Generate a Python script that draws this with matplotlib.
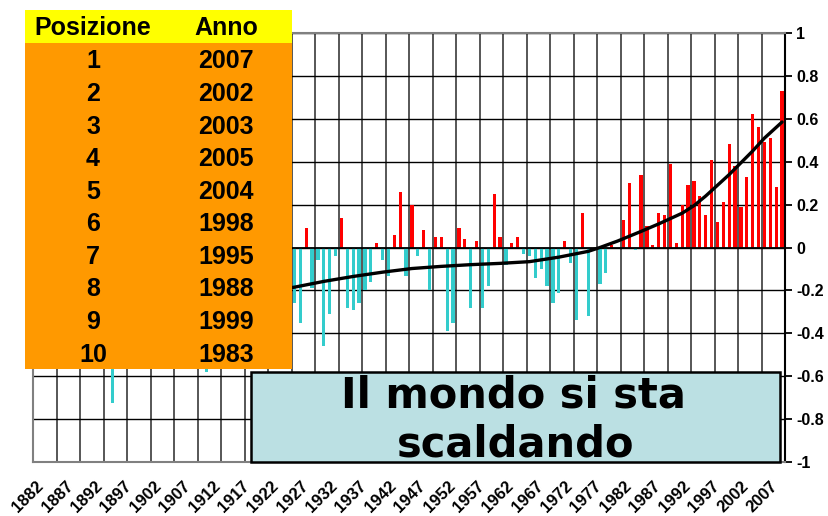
import numpy as np
import matplotlib
matplotlib.use('Agg')
import matplotlib.pyplot as plt
from matplotlib.patches import Rectangle

plt.rcParams['font.family'] = ['Liberation Sans', 'DejaVu Sans']
plt.rcParams['font.weight'] = 'bold'

# anomalie annuali (asse x come etichettato nel grafico: 1882 ... 2009)
anomalie = [
    -0.25, -0.15, -0.32, -0.35, -0.30, -0.38, -0.25, -0.10, -0.36, -0.30,   # 1882-1891
    -0.28, -0.40, -0.45, -0.725, -0.20, -0.12, -0.34, -0.15, -0.05, -0.12,  # 1892-1901
    -0.22, -0.30, -0.42, -0.28, -0.22, -0.45, -0.48, -0.50, -0.46, -0.58,   # 1902-1911
    -0.42, -0.40, -0.18, -0.12, -0.38, -0.50, -0.35, -0.27, -0.26, -0.18,   # 1912-1921
    -0.30, -0.25, -0.30, -0.20, -0.258, -0.351, 0.09, -0.188, -0.057, -0.458,  # 1922-1931
    -0.309, -0.039, 0.137, -0.281, -0.29, -0.258, -0.197, -0.16, 0.02, -0.057,  # 1932-1941
    -0.132, 0.057, 0.258, -0.132, 0.199, -0.039, 0.081, -0.197, 0.048, 0.048,   # 1942-1951
    -0.389, -0.351, 0.09, 0.039, -0.281, 0.03, -0.281, -0.179, 0.249, 0.048,    # 1952-1961
    -0.081, 0.02, 0.048, -0.03, -0.039, -0.141, -0.099, -0.179, -0.258, -0.211, # 1962-1971
    0.03, -0.071, -0.337, 0.16, -0.319, 0.0, -0.169, -0.118, 0.011, 0.0,        # 1972-1981
    0.127, 0.30, -0.01, 0.337, 0.10, 0.011, 0.16, 0.151, 0.389, 0.02,           # 1982-1991
    0.197, 0.291, 0.309, 0.239, 0.151, 0.407, 0.118, 0.211, 0.482, 0.379,       # 1992-2001
    0.188, 0.328, 0.622, 0.561, 0.49, 0.51, 0.281, 0.729,                       # 2002-2009
]
anni = np.arange(1882, 1882 + len(anomalie))

# linea di tendenza
trend_anni = [1882, 1887, 1892, 1897, 1902, 1907, 1912, 1917, 1922, 1926, 1931, 1936,
              1941, 1946, 1951, 1956, 1961, 1966, 1971, 1976, 1978, 1981, 1985, 1988,
              1990, 1992, 1994, 1996, 1998, 2000, 2002, 2004, 2006, 2009]
trend_val = [-0.36, -0.33, -0.30, -0.28, -0.26, -0.24, -0.225, -0.21, -0.20, -0.185, -0.158, -0.135,
             -0.115, -0.098, -0.088, -0.080, -0.074, -0.066, -0.045, -0.018, 0.0, 0.03, 0.075, 0.11,
             0.135, 0.16, 0.195, 0.24, 0.29, 0.34, 0.395, 0.45, 0.51, 0.585]

etichette_anni = list(range(1882, 2008, 5))
y_ticks = [1, 0.8, 0.6, 0.4, 0.2, 0, -0.2, -0.4, -0.6, -0.8, -1]
y_labels = ['1', '0.8', '0.6', '0.4', '0.2', '0', '-0.2', '-0.4', '-0.6', '-0.8', '-1']

posizioni = ['1', '2', '3', '4', '5', '6', '7', '8', '9', '10']
anni_caldi = ['2007', '2002', '2003', '2005', '2004', '1998', '1995', '1988', '1999', '1983']

W, H = 829, 516
fig = plt.figure(figsize=(W / 100, H / 100), dpi=100)
ax = fig.add_axes([33 / W, 1 - 462 / H, (785 - 33) / W, (462 - 33) / H])

colori = ['#FF0000' if v > 0 else '#33CCCC' for v in anomalie]
ax.bar(anni, anomalie, width=0.55, color=colori, zorder=2)
ax.axhline(0, color='black', lw=1.3, zorder=2.5)
ax.plot(trend_anni, trend_val, color='black', lw=2.4, zorder=3,
        solid_capstyle='round', solid_joinstyle='round')

ax.set_xlim(anni[0] - 0.5, anni[-1] + 0.5)
ax.set_ylim(-1, 1)

# griglia verticale ogni 4 categorie
ax.set_xticks(np.arange(anni[0] - 0.5, anni[-1] + 1, 4), minor=True)
ax.grid(True, which='minor', axis='x', color='#3a3a3a', lw=1.2, zorder=0)
ax.set_xticks(etichette_anni)
ax.set_xticklabels([str(a) for a in etichette_anni], rotation=45, ha='right', va='top',
                   rotation_mode='anchor', fontweight='bold')
ax.tick_params(axis='x', which='both', length=0, pad=12, labelsize=12)

ax.yaxis.tick_right()
ax.set_yticks(y_ticks)
ax.set_yticklabels(y_labels, fontweight='bold')
ax.tick_params(axis='y', length=5, width=1.3, pad=3, color='black', labelsize=11.5)
ax.grid(True, which='major', axis='y', color='black', lw=1.0, zorder=0)
ax.set_axisbelow(True)

for lato in ['left', 'top', 'bottom']:
    ax.spines[lato].set_color('#808080')
    ax.spines[lato].set_linewidth(1.5)
ax.spines['right'].set_color('black')
ax.spines['right'].set_linewidth(1.5)


def fx(x):
    return x / W


def fy(y):
    return 1 - y / H


# tabella classifica
fig.add_artist(Rectangle((fx(25), fy(369)), fx(292) - fx(25), fy(43) - fy(369),
                         transform=fig.transFigure, facecolor='#FF9900', edgecolor='none', zorder=5))
fig.add_artist(Rectangle((fx(25), fy(43)), fx(292) - fx(25), fy(10) - fy(43),
                         transform=fig.transFigure, facecolor='#FFFF00', edgecolor='none', zorder=5))
fig.text(fx(93), fy(35), 'Posizione', ha='center', va='baseline', fontsize=18,
         fontweight='bold', zorder=6)
fig.text(fx(226), fy(35), 'Anno', ha='center', va='baseline', fontsize=18,
         fontweight='bold', zorder=6)
for i in range(len(posizioni)):
    yb = 68.3 + 32.6 * i
    fig.text(fx(93), fy(yb), posizioni[i], ha='center', va='baseline', fontsize=18,
             fontweight='bold', zorder=6)
    fig.text(fx(226), fy(yb), anni_caldi[i], ha='center', va='baseline', fontsize=18,
             fontweight='bold', zorder=6)

# riquadro titolo
fig.add_artist(Rectangle((fx(251), fy(462)), fx(780) - fx(251), fy(372) - fy(462),
                         transform=fig.transFigure, facecolor='#BBE0E3', edgecolor='black',
                         lw=1.8, zorder=5))
fig.text(fx(513), fy(407.7), 'Il mondo si sta', ha='center', va='baseline', fontsize=30,
         fontweight='bold', family='DejaVu Sans', zorder=6)
fig.text(fx(516), fy(456.7), 'scaldando', ha='center', va='baseline', fontsize=30,
         fontweight='bold', family='DejaVu Sans', zorder=6)

fig.savefig('out.png', dpi=100)
